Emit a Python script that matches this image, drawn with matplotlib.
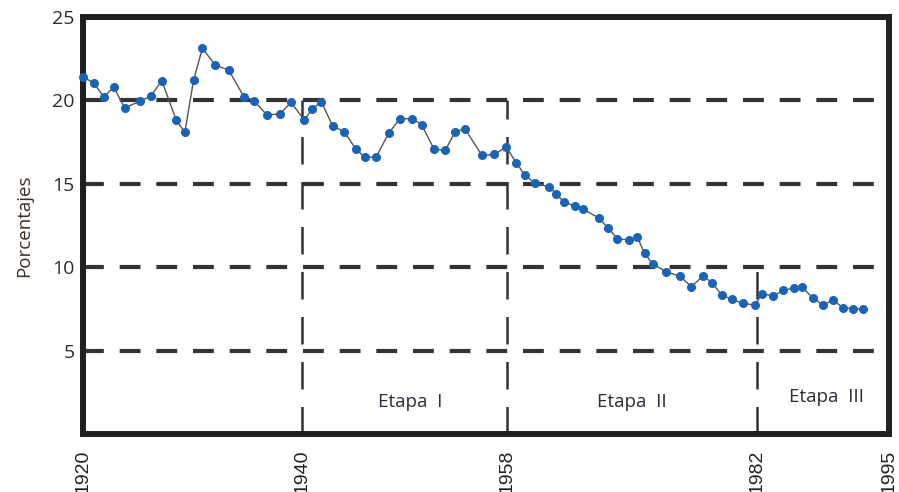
#!/usr/bin/env python3
import matplotlib
matplotlib.use('Agg')
import matplotlib.pyplot as plt
import numpy as np

# data
years = [1920.0, 1921.0, 1921.9, 1922.8, 1923.8, 1925.2, 1926.2, 1927.2, 1928.5, 1929.3,
         1930.1, 1930.9, 1932.1, 1933.3, 1934.7, 1935.6, 1936.8, 1938.0, 1939.0, 1940.2,
         1940.9, 1941.7, 1942.7, 1943.7, 1944.7, 1945.5, 1946.5, 1947.6, 1948.6, 1949.7,
         1950.5, 1951.6, 1952.6, 1953.4, 1954.3, 1955.8, 1956.9, 1957.9, 1958.9, 1959.7,
         1960.7, 1962.0, 1962.7, 1963.5, 1964.5, 1965.3, 1966.8, 1967.7, 1968.6, 1969.7,
         1970.5, 1971.2, 1972.0, 1973.3, 1974.6, 1975.7, 1976.8, 1977.7, 1978.6, 1979.6,
         1980.7, 1981.8, 1982.5, 1983.6, 1984.6, 1985.6, 1986.4, 1987.5, 1988.5, 1989.5,
         1990.5, 1991.5, 1992.4]
porcentajes = [21.4, 21.05, 20.2, 20.8, 19.56, 19.94, 20.26, 21.18, 18.84, 18.08,
               21.22, 23.12, 22.11, 21.82, 20.22, 19.98, 19.13, 19.19, 19.88, 18.83,
               19.47, 19.91, 18.46, 18.13, 17.11, 16.59, 16.59, 18.02, 18.9, 18.9,
               18.55, 17.07, 17.01, 18.08, 18.31, 16.7, 16.76, 17.21, 16.27, 15.52,
               15.03, 14.83, 14.41, 13.89, 13.68, 13.47, 12.96, 12.35, 11.71, 11.63,
               11.83, 10.83, 10.19, 9.72, 9.46, 8.83, 9.46, 9.08, 8.33, 8.07,
               7.83, 7.73, 8.41, 8.27, 8.61, 8.75, 8.81, 8.17, 7.73, 8.03,
               7.55, 7.51, 7.51]

xticks = [1920, 1940, 1958, 1982, 1995]
yticks = [5, 10, 15, 20, 25]
grid_levels = [5, 10, 15, 20]
etapa_breaks = [1940, 1958, 1982]
etapa_tops = [20, 20, 10]
etapa_labels = ['Etapa  I', 'Etapa  II', 'Etapa  III']
etapa_x = [1949.5, 1970.0, 1988.8]
etapa_y = [1.9, 1.9, 2.2]

# the original axis is not evenly spaced between the labelled years
knot_years = [1920, 1940, 1958, 1982, 1995]
knot_pos = [0, 219, 424, 674, 806]

def fwd(x):
    return np.interp(x, knot_years, knot_pos)

def inv(x):
    return np.interp(x, knot_pos, knot_years)

fig = plt.figure(figsize=(8.99, 4.92), dpi=100)
ax = fig.add_axes([83/899, 1 - 434/492, 806/899, 417/492])
ax.set_xscale('function', functions=(fwd, inv))
ax.set_xlim(1920, 1995)
ax.set_ylim(0, 25)

for lvl in grid_levels:
    ax.plot([1920, 1995], [lvl, lvl], color='#333333', lw=3, dashes=(5, 3.8), zorder=1)

for xb, top in zip(etapa_breaks, etapa_tops):
    ax.plot([xb, xb], [0, top], color='#333333', lw=1.8, dashes=(11, 7), zorder=1)

ax.plot(years, porcentajes, color='#555555', lw=1.0, zorder=4, clip_on=False)
ax.plot(years, porcentajes, 'o', color='#1a64b8', ms=5.5, mec='#1a64b8', zorder=5,
        clip_on=False)

for lab, xe, ye in zip(etapa_labels, etapa_x, etapa_y):
    ax.text(xe, ye, lab, ha='center', va='center', fontsize=13.5,
            family='Open Sans', color='#2b2b3b')

ax.set_xticks(xticks)
ax.set_xticklabels([str(t) for t in xticks], rotation=90, family='Liberation Sans',
                   fontsize=14, color='#222222')
ax.set_yticks(yticks)
ax.set_yticklabels([str(t) for t in yticks], family='Open Sans', fontsize=14, color='#2b2b3b')
ax.tick_params(axis='both', length=0)
ax.tick_params(axis='x', pad=11)
ax.tick_params(axis='y', pad=6)
ax.minorticks_off()

for sp in ax.spines.values():
    sp.set_linewidth(4.3)
    sp.set_color('#231f20')

ax.set_ylabel('Porcentajes', family='Open Sans', fontsize=13.5, color='#3d2b22', labelpad=14)

fig.savefig('out.png', dpi=100)
